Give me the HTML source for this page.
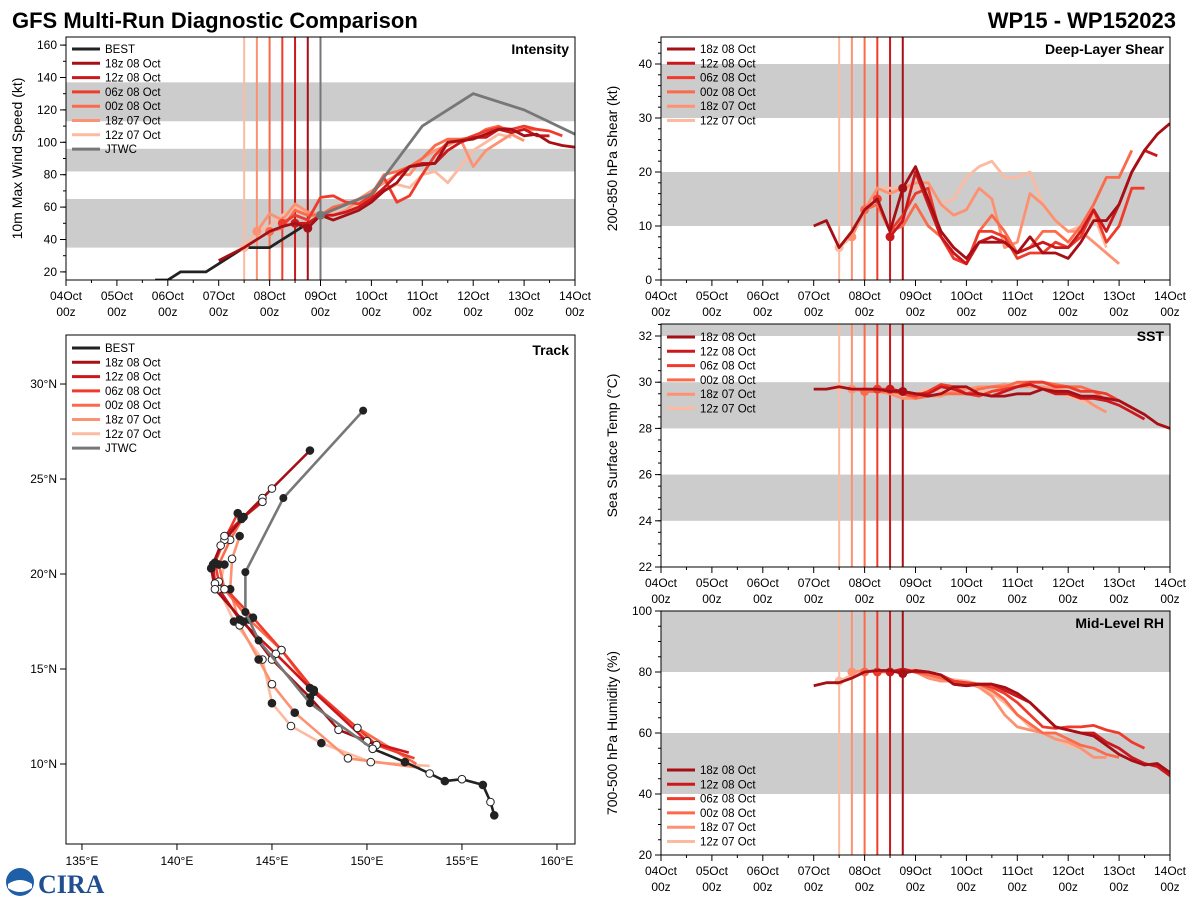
<!DOCTYPE html>
<html><head><meta charset="utf-8"><style>
body{margin:0;background:#fff}
svg{font-family:"Liberation Sans","DejaVu Sans",sans-serif;display:block}
</style></head><body>
<svg id="c" width="1200" height="900" viewBox="0 0 1200 900">
<text x="12" y="28" font-size="22" font-weight="bold">GFS Multi-Run Diagnostic Comparison</text>
<text x="1176" y="28" font-size="22" font-weight="bold" text-anchor="end">WP15 - WP152023</text>
<g>
<circle cx="20" cy="882" r="14" fill="#1f5fa8"/><path d="M8 884 Q20 876 32 884 L32 888 Q20 896 8 888Z" fill="#fff"/>
<text x="38" y="893" font-size="26" font-weight="bold" fill="#1f4f8f" font-family="Liberation Serif,serif">CIRA</text>
</g>
</svg>
<script>
const runNames=["18z 08 Oct","12z 08 Oct","06z 08 Oct","00z 08 Oct","18z 07 Oct","12z 07 Oct"];
const runColors=["#a50f15","#cb181d","#ef3b2c","#fb6a4a","#fc9272","#fcbba1"];
const runStart=[72,108,102,96,90,84];
const initHours=[114,108,102,96,90,84];
// intensity (kt), 6-hourly from runStart
const intRuns=[
[27,31,35,40,45,48,50,47,55,52,55,58,63,70,75,85,86,87,100,101,102,105,108,108,104,105,100,98,97],
[50,50,55,55,57,60,65,72,80,85,87,87,95,100,103,103,108,106,108,104,104],
[50,55,52,66,67,63,62,67,78,63,67,80,92,100,101,104,107,109,108,110,108,107,104],
[45,47,58,55,55,60,62,65,68,80,82,85,90,98,102,102,103,108,110,106,108,108],
[45,56,52,62,57,55,55,58,65,70,75,80,80,90,95,98,102,85,95,100,105,101],
[35,45,48,55,60,55,55,57,57,62,68,70,74,72,80,82,75,85,95,100,105,103]];
const bestHours=[42,48,54,60,66,72,78,84,90,96,102,108,114,120];
const bestInt=[15,15,20,20,20,25,30,35,35,35,40,45,50,55];
const jtwcHours=[120,144,168,192,216,240];
const jtwcInt=[55,68,110,130,120,105];
const shearRuns=[
[10,11,6,9,13,15,9,17,21,15,9,6,4,7,7,7,5,8,5,5,4,7,11,11,14,20,24,27,29],
[8,11,20,14,8,5,3,7,8,7,5,6,7,6,6,9,13,9,14,20,24,23],
[15,9,12,16,17,8,4,3,9,9,8,4,5,5,7,6,8,13,7,10,17,17],
[13,14,9,10,14,10,8,4,3,9,12,9,5,6,9,9,7,10,14,19,19,24],
[8,13,17,16,17,18,18,14,12,13,17,15,6,7,16,14,11,9,9,7,5,3],
[6,8,13,17,17,17,17,18,14,15,19,21,22,19,19,20,14,11,9,10,12,6]];
const sstRuns=[
[29.7,29.7,29.8,29.7,29.7,29.7,29.6,29.6,29.5,29.4,29.5,29.8,29.8,29.5,29.4,29.4,29.5,29.5,29.7,29.6,29.6,29.4,29.4,29.3,29.2,28.9,28.6,28.2,28.0],
[29.7,29.6,29.5,29.5,29.8,29.7,29.5,29.5,29.4,29.6,29.8,29.9,29.7,29.5,29.5,29.3,29.3,29.2,29.0,28.7,28.4],
[29.7,29.7,29.5,29.4,29.6,29.9,29.8,29.5,29.4,29.6,29.7,29.8,30.0,30.0,29.8,29.8,29.6,29.6,29.5,29.2,28.9],
[29.6,29.6,29.6,29.5,29.3,29.4,29.5,29.5,29.5,29.7,29.8,29.8,30.0,30.0,30.0,29.9,29.8,29.8,29.6,29.2],
[29.7,29.6,29.6,29.5,29.3,29.3,29.4,29.4,29.6,29.7,29.8,29.8,29.9,29.8,29.8,29.8,29.7,29.6,29.4,29.0,28.7],
[29.8,29.7,29.6,29.6,29.5,29.4,29.5,29.7,29.6,29.6,29.7,29.6,29.6,29.8,29.9,29.8,29.7,29.6,29.4,29.2,29.0,28.7]];
const rhRuns=[
[75.5,76.5,76.5,78,80,80.5,80.5,79.5,80.5,80,79,76,75.5,76,76,75,73,70,66,62,61,60,59,56,53,51,49.5,50,47],
[80,81,80,80,79,76,75.5,76,76,74,72,70,66,62,61,60,60,57,55,52,50,49,46,48],
[80,80.5,80,80.5,80,79,77,76.5,76,75,73,70,66,62,61.5,62,62,62.5,61,60,57,55],
[80,80.5,80,80.5,80,79,78,77,76,76,74,71,66,63,60,60,58,56,55,53,52],
[80,80.5,80,80,80.5,80,78,77,77,76.5,75,72,66,62,61,60,58,57,55,52,52],
[77,79,80.5,80,80.5,80.5,81,79,78,77.5,77,76,73,70,66,62,60,58,56,55,52]];
const bestLon=[156.7,156.5,156.1,155.0,154.1,153.3,152.0,150.3];
const bestLat=[7.3,8.0,8.9,9.2,9.1,9.5,10.1,10.8];
const jtwcLon=[150.3,147.0,144.3,143.6,143.6,145.6,149.8];
const jtwcLat=[10.8,13.2,16.5,18.0,20.1,24.0,28.6];
const trackLon=[
[150.5,148.5,147.0,145.0,143.5,142.0,141.8,142.3,143.5,145.0,147.0],
[152.2,150.0,147.2,145.2,143.3,142.0,141.9,142.5,143.4,144.5],
[152.5,150.5,147.2,145.5,144.0,142.2,142.0,142.5,143.2],
[152.6,149.5,147.0,145.5,143.8,142.5,142.2,142.8,143.5,144.5],
[152.8,149.0,146.2,145.0,144.3,143.3,142.8,142.9,143.3],
[153.3,150.2,147.6,146.0,145.0,144.5,143.0,142.2,142.5]];
const trackLat=[
[11.0,11.8,13.5,15.5,17.5,19.2,20.3,21.5,23.0,24.5,26.5],
[10.6,11.2,13.8,15.8,17.6,19.5,20.5,22.0,22.9,23.8],
[10.3,11.0,13.9,16.0,17.7,19.6,20.6,21.8,23.2],
[10.0,11.9,14.0,16.0,17.6,19.2,20.5,21.8,23.0,24.0],
[9.8,10.3,12.7,14.2,15.5,17.3,19.2,20.8,22.0],
[9.9,10.1,11.1,12.0,13.2,15.5,17.5,19.2,20.5]];
const dayLabels=["04Oct","05Oct","06Oct","07Oct","08Oct","09Oct","10Oct","11Oct","12Oct","13Oct","14Oct"];

const NS="http://www.w3.org/2000/svg";
const svg=document.getElementById('c');
const defs=document.createElementNS(NS,'defs');svg.appendChild(defs);
let clipN=0;
function E(tag,attrs,parent,text){const e=document.createElementNS(NS,tag);for(const k in attrs)e.setAttribute(k,attrs[k]);if(text!==undefined)e.textContent=text;(parent||svg).appendChild(e);return e;}
function pathD(xs,ys){return xs.map((x,i)=>(i?'L':'M')+x.toFixed(1)+' '+ys[i].toFixed(1)).join(' ');}

function timePanel(name,x0,y0,w,h,ymin,ymax,bands,yticks,minorStep,ylabel,title){
  const g=E('g',{});
  
  
  const id='clip'+(clipN++);
  const cp=E('clipPath',{id:id},defs);E('rect',{x:x0,y:y0,width:w,height:h},cp);
  const X=t=>x0+t/240*w, Y=v=>y0+h-(v-ymin)/(ymax-ymin)*h;
  bands.forEach(b=>{const r=E('rect',{x:x0,y:Y(Math.min(b[1],ymax)),width:w,height:Y(b[0])-Y(Math.min(b[1],ymax)),fill:'#cccccc'},g);
    
    });
  for(let d=0;d<=10;d++){const x=X(d*24);E('line',{x1:x,x2:x,y1:y0+h,y2:y0+h+6,stroke:'#000'},g);
    if(d<10)E('line',{x1:X(d*24+12),x2:X(d*24+12),y1:y0+h,y2:y0+h+3,stroke:'#000'},g);
    const t=E('text',{x:x,y:y0+h+20,'font-size':12,'text-anchor':'middle'},g,dayLabels[d]);
    
    
    E('text',{x:x,y:y0+h+36,'font-size':12,'text-anchor':'middle'},g,'00z');}
  for(let v=Math.ceil(ymin/minorStep)*minorStep;v<=ymax;v+=minorStep)E('line',{x1:x0-3,x2:x0,y1:Y(v),y2:Y(v),stroke:'#000'},g);
  yticks.forEach(v=>{E('line',{x1:x0-6,x2:x0,y1:Y(v),y2:Y(v),stroke:'#000'},g);
    const t=E('text',{x:x0-9,y:Y(v)+4,'font-size':12,'text-anchor':'end'},g,String(v));
    
    });
  const yl=E('text',{x:0,y:0,'font-size':14,'text-anchor':'middle',transform:`translate(${x0-44},${y0+h/2}) rotate(-90)`},g,ylabel);
  
  
  const inner=E('g',{'clip-path':'url(#'+id+')'},g);
  const tt=E('text',{x:x0+w-6,y:y0+17,'font-size':14,'font-weight':'bold','text-anchor':'end'},g,title);
  
  
  return {g,inner,X,Y,x0,y0,w,h};
}
function initLines(p){for(let i=5;i>=0;i--){const x=p.X(initHours[i]);
  const l=E('line',{x1:x,x2:x,y1:p.y0,y2:p.y0+p.h,stroke:runColors[i],'stroke-width':2},p.inner);
  
  }}
function drawRuns(p,runs){for(let i=5;i>=0;i--){const xs=runs[i].map((v,k)=>p.X(runStart[i]+6*k)),ys=runs[i].map(v=>p.Y(v));
  const pa=E('path',{d:pathD(xs,ys),fill:'none',stroke:runColors[i],'stroke-width':2.8,'stroke-linejoin':'round'},p.inner);
  
  
  const k=(initHours[i]-runStart[i])/6;
  if(runs[i][k]!==undefined)E('circle',{cx:p.X(initHours[i]),cy:p.Y(runs[i][k]),r:4.5,fill:runColors[i]},p.inner);}}
function frame(p){E('rect',{x:p.x0,y:p.y0,width:p.w,height:p.h,fill:'none',stroke:'#000','stroke-width':1},p.g);}
function legend(p,x,y,names,colors){const g=E('g',{},p.g);
  
  
  names.forEach((n,i)=>{const yy=y+i*14.3;E('line',{x1:x,x2:x+28,y1:yy,y2:yy,stroke:colors[i],'stroke-width':3},g);
    const t=E('text',{x:x+33,y:yy+4,'font-size':11.5},g,n);
    
    });}

// Intensity
const pI=timePanel('intensity',66,37,509,243,15,165,[[35,65],[82,96],[113,137]],[20,40,60,80,100,120,140,160],10,'10m Max Wind Speed (kt)','Intensity');
initLines(pI);
E('line',{x1:pI.X(120),x2:pI.X(120),y1:pI.y0,y2:pI.y0+pI.h,stroke:'#777','stroke-width':2},pI.inner);
E('path',{d:pathD(bestHours.map(pI.X),bestInt.map(pI.Y)),fill:'none',stroke:'#222','stroke-width':2.8},pI.inner);
drawRuns(pI,intRuns);
E('path',{d:pathD(jtwcHours.map(pI.X),jtwcInt.map(pI.Y)),fill:'none',stroke:'#777','stroke-width':2.8},pI.inner);
E('circle',{cx:pI.X(120),cy:pI.Y(55),r:4.5,fill:'#777'},pI.inner);
frame(pI);
legend(pI,72,49,["BEST"].concat(runNames,["JTWC"]),["#222"].concat(runColors,["#777"]));

// Shear
const pS=timePanel('shear',661,37,509,243,0,45,[[10,20],[30,40]],[0,10,20,30,40],2,'200-850 hPa Shear (kt)','Deep-Layer Shear');
initLines(pS);drawRuns(pS,shearRuns);frame(pS);
legend(pS,667,49,runNames,runColors);

// SST
const pT=timePanel('sst',661,324,509,243,22,32.52,[[24,26],[28,30],[32,33]],[22,24,26,28,30,32],0.5,'Sea Surface Temp (°C)','SST');
initLines(pT);drawRuns(pT,sstRuns);frame(pT);
legend(pT,667,337,runNames,runColors);

// RH
const pR=timePanel('rh',661,611,509,244,20,100,[[40,60],[80,100]],[20,40,60,80,100],5,'700-500 hPa Humidity (%)','Mid-Level RH');
initLines(pR);drawRuns(pR,rhRuns);frame(pR);
legend(pR,667,770,runNames,runColors);

// Track
(function(){
  const x0=66,y0=335,w=509,h=509,lonMin=134.16,lonMax=160.95,latMin=5.79,latMax=32.58;
  const g=E('g',{});
  
  
  const X=l=>x0+(l-lonMin)/(lonMax-lonMin)*w, Y=l=>y0+h-(l-latMin)/(latMax-latMin)*h;
  for(let lon=135;lon<=160;lon+=5){E('line',{x1:X(lon),x2:X(lon),y1:y0+h,y2:y0+h+6,stroke:'#000'},g);
    const t=E('text',{x:X(lon),y:y0+h+21,'font-size':12,'text-anchor':'middle'},g,lon+'°E');
    
    }
  for(let lat=10;lat<=30;lat+=5){E('line',{x1:x0-6,x2:x0,y1:Y(lat),y2:Y(lat),stroke:'#000'},g);
    const t=E('text',{x:x0-9,y:Y(lat)+4,'font-size':12,'text-anchor':'end'},g,lat+'°N');
    
    }
  function track(lons,lats,col,name){const pa=E('path',{d:pathD(lons.map(X),lats.map(Y)),fill:'none',stroke:col,'stroke-width':2.6,'stroke-linejoin':'round'},g);
    
    }
  for(let i=5;i>=0;i--){track(trackLon[i],trackLat[i],runColors[i],'track-'+runNames[i].replace(/ /g,'-').toLowerCase());}
  for(let i=5;i>=0;i--){trackLon[i].forEach((lo,k)=>{if(k==0)return;
    E('circle',{cx:X(lo),cy:Y(trackLat[i][k]),r:3.8,fill:k%2?'#fff':'#222',stroke:'#222','stroke-width':1},g);});}
  track(jtwcLon,jtwcLat,'#777','track-jtwc');
  jtwcLon.forEach((lo,k)=>E('circle',{cx:X(lo),cy:Y(jtwcLat[k]),r:4,fill:k==0?'#777':'#222'},g));
  track(bestLon,bestLat,'#222','track-best');
  bestLon.forEach((lo,k)=>E('circle',{cx:X(lo),cy:Y(bestLat[k]),r:3.8,fill:k%2?'#fff':'#222',stroke:'#222'},g));
  E('rect',{x:x0,y:y0,width:w,height:h,fill:'none',stroke:'#000'},g);
  const tt=E('text',{x:x0+w-6,y:y0+20,'font-size':14,'font-weight':'bold','text-anchor':'end'},g,'Track');
  
  
  legend({g},72,348,["BEST"].concat(runNames,["JTWC"]),["#222"].concat(runColors,["#777"]));
})();
</script>
</body></html>
